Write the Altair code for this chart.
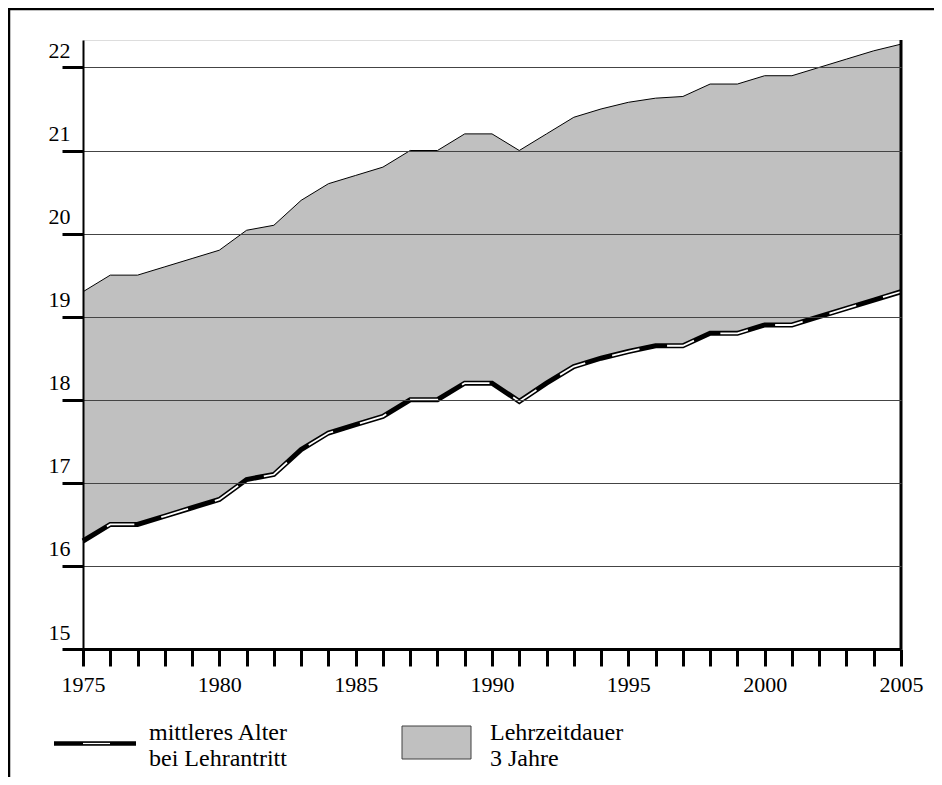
import altair as alt
import pandas as pd

years = list(range(1975, 2006))
age = [16.3, 16.5, 16.5, 16.6, 16.7, 16.8, 17.04, 17.1, 17.4, 17.6, 17.7, 17.8,
       18.0, 18.0, 18.2, 18.2, 17.98, 18.2, 18.4, 18.5, 18.58, 18.65, 18.65,
       18.8, 18.8, 18.9, 18.9, 19.0, 19.1, 19.2, 19.3]
upper = [19.3, 19.5, 19.5, 19.6, 19.7, 19.8, 20.04, 20.1, 20.4, 20.6, 20.7, 20.8,
         21.0, 21.0, 21.2, 21.2, 21.0, 21.2, 21.4, 21.5, 21.58, 21.63, 21.65,
         21.8, 21.8, 21.9, 21.9, 22.0, 22.1, 22.2, 22.28]
y_ticks = [15, 16, 17, 18, 19, 20, 21, 22]
legend_line_text = ["mittleres Alter", "bei Lehrantritt"]
legend_area_text = ["Lehrzeitdauer", "3 Jahre"]

FONT = "Liberation Serif"
W, H = 818, 609

df = pd.DataFrame({"year": years, "age": age, "upper": upper})

xscale = alt.Scale(domain=[1975, 2005], nice=False, zero=False)
yscale = alt.Scale(domain=[15, 22.33], nice=False, zero=False)

x_axis = alt.Axis(values=years, format="d",
                  labelExpr="datum.value % 5 == 0 ? datum.label : ''",
                  grid=False, domainWidth=3, tickWidth=3, tickSize=17,
                  labelPadding=8, labelOverlap=False, labelFlush=False, zindex=1)
y_axis = alt.Axis(values=y_ticks, format="d", grid=True,
                  domainWidth=2, tickWidth=3, tickSize=21,
                  labelAlign="right", labelBaseline="alphabetic",
                  labelOffset=-10, labelPadding=-8,
                  labelOverlap=False, labelFlush=False, zindex=1)


def X():
    return alt.X("year:Q", scale=xscale, title=None, axis=x_axis)


def Y(field):
    return alt.Y(field, scale=yscale, title=None, axis=y_axis)


base = alt.Chart(df)

area = base.mark_area(color="#c0c0c0", opacity=1).encode(
    x=X(), y=Y("upper:Q"), y2=alt.Y2("age:Q"))
upper_line = base.mark_line(color="black", strokeWidth=1).encode(
    x=X(), y=Y("upper:Q"))
age_black = base.mark_line(color="black", strokeWidth=5).encode(
    x=X(), y=Y("age:Q"))
age_white = base.mark_line(color="white", strokeWidth=1.8, strokeDash=[28, 28],
                           strokeDashOffset=28).encode(
    x=X(), y=Y("age:Q"))

one = pd.DataFrame({"a": [0]})
right_rule = alt.Chart(one).transform_calculate(
    xr="2005", y1="15", y2="22.33"
).mark_rule(color="black", strokeWidth=3).encode(
    x=alt.X("xr:Q", scale=xscale, title=None, axis=x_axis),
    y=alt.Y("y1:Q", scale=yscale, title=None, axis=y_axis), y2="y2:Q")

frame_top = alt.Chart(one).mark_rule(color="black", strokeWidth=2.5).encode(
    x=alt.value(-75), x2=alt.value(851), y=alt.value(-31))
frame_left = alt.Chart(one).mark_rule(color="black", strokeWidth=2.5).encode(
    x=alt.value(-74), y=alt.value(-32), y2=alt.value(740))

leg_line = alt.Chart(one).mark_rule(color="black", strokeWidth=4.5).encode(
    x=alt.value(-29), x2=alt.value(53), y=alt.value(703.5))
leg_line_w = alt.Chart(one).mark_rule(color="white", strokeWidth=1.2).encode(
    x=alt.value(0), x2=alt.value(27), y=alt.value(703.5))
leg_rect = alt.Chart(one).mark_rect(color="#c0c0c0", stroke="#404040", strokeWidth=1).encode(
    x=alt.value(319), x2=alt.value(388), y=alt.value(686), y2=alt.value(719))

leg_t1 = alt.Chart(pd.DataFrame({"t": legend_line_text, "i": [0, 1]})).mark_text(
    font=FONT, fontSize=24, align="left", baseline="alphabetic", color="black"
).encode(x=alt.value(66),
         y=alt.Y("i:Q", scale=alt.Scale(domain=[0, 1], range=[700, 726]), axis=None),
         text="t:N")
leg_t2 = alt.Chart(pd.DataFrame({"t": legend_area_text, "i": [0, 1]})).mark_text(
    font=FONT, fontSize=24, align="left", baseline="alphabetic", color="black"
).encode(x=alt.value(407),
         y=alt.Y("i:Q", scale=alt.Scale(domain=[0, 1], range=[700, 726]), axis=None),
         text="t:N")

main = alt.layer(area, upper_line, age_black, age_white, right_rule)

chart = alt.layer(main, frame_top, frame_left, leg_line, leg_line_w, leg_rect,
                  leg_t1, leg_t2).resolve_scale(y="independent").properties(
    width=W, height=H,
    autosize=alt.AutoSizeParams(type="none"),
    padding={"left": 75, "top": 32, "right": 33, "bottom": 128},
).configure_view(stroke=None).configure(background="white").configure_axis(
    labelFont=FONT, labelFontSize=22, labelColor="black",
    domainColor="black", tickColor="black", gridColor="#444444", gridWidth=1
)

chart.save("out.html", embed_options={"renderer": "svg", "actions": False})
